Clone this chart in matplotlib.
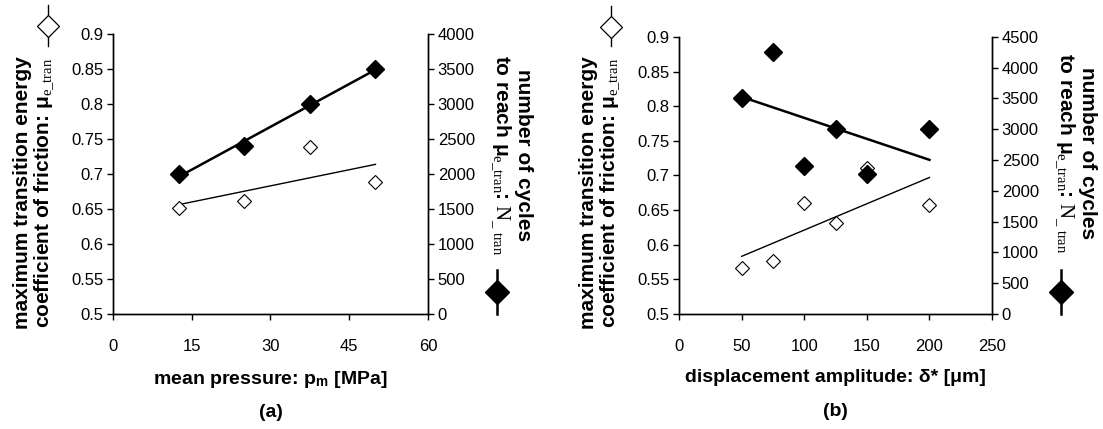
import matplotlib
matplotlib.use("Agg")
import matplotlib.pyplot as plt

plt.rcParams['font.family'] = ['Liberation Sans', 'DejaVu Sans']
plt.rcParams['mathtext.fontset'] = 'custom'
plt.rcParams['mathtext.rm'] = 'Liberation Serif'
plt.rcParams['mathtext.it'] = 'Liberation Serif'
plt.rcParams['mathtext.bf'] = 'Liberation Sans:bold'

# panel (a): mean pressure
press = [12.5, 25, 37.5, 50]
mu_press = [0.651, 0.661, 0.739, 0.689]
n_press = [2000, 2400, 3000, 3500]

# panel (b): displacement amplitude
disp = [50, 75, 100, 125, 150, 200]
mu_disp = [0.566, 0.576, 0.660, 0.632, 0.711, 0.658]
n_disp = [3500, 4250, 2400, 3000, 2280, 3000]

mu_ticks = [0.5, 0.55, 0.6, 0.65, 0.7, 0.75, 0.8, 0.85, 0.9]
mu_ticklabels = ["0.5", "0.55", "0.6", "0.65", "0.7", "0.75", "0.8", "0.85", "0.9"]

left_label = ("maximum transition energy\n"
              "coefficient of friction: \u03bc$_{\\mathrm{e\\_tran}}$")
right_label = ("number of cycles\n"
               "to reach \u03bc$_{\\mathrm{e\\_tran}}$: $\\mathrm{N}_{\\mathrm{\\_\\ tran}}$")


def trend(x, y):
    """ least squares line through the points, evaluated at the end points """
    n = len(x)
    xm = sum(x) / n
    ym = sum(y) / n
    sxy = sum((a - xm) * (b - ym) for a, b in zip(x, y))
    sxx = sum((a - xm) ** 2 for a in x)
    slope = sxy / sxx
    xs = [min(x), max(x)]
    return xs, [ym + slope * (v - xm) for v in xs]


def draw_panel(ax, x, mu, n, xlim, xticks, nmax, xlabel, tag, geo):
    ax2 = ax.twinx()

    xs, ys = trend(x, mu)
    ax.plot(xs, ys, color="black", lw=1.0)
    ax.plot(x, mu, ls="none", marker="D", ms=7.5, mfc="white", mec="black", mew=0.8)

    xs, ys = trend(x, n)
    ax2.plot(xs, ys, color="black", lw=1.8)
    ax2.plot(x, n, ls="none", marker="D", ms=9.5, mfc="black", mec="black")

    ax.set_xlim(*xlim)
    ax.set_xticks(xticks)
    ax.set_ylim(0.5, 0.9)
    ax.set_yticks(mu_ticks)
    ax.set_yticklabels(mu_ticklabels)
    ax2.set_ylim(0, nmax)
    ax2.set_yticks(range(0, nmax + 1, 500))

    for a in (ax, ax2):
        a.spines["top"].set_visible(False)
        a.tick_params(direction="out", length=4, width=1, labelsize=12, pad=3)
        for s in a.spines.values():
            s.set_linewidth(1)
    ax.tick_params(axis="x", pad=14)

    ax.set_xlabel(xlabel, fontsize=14, fontweight="bold", labelpad=11)
    ax.text(0.5, -0.35, tag, transform=ax.transAxes, ha="center", va="center",
            fontsize=14, fontweight="bold")

    lx, ly, rx, ry, okx, oky, fkx, fky = geo
    ax.text(lx, ly, left_label, transform=ax.transAxes, rotation=90, ha="center",
            va="center", fontsize=15, fontweight="bold", linespacing=1.0)
    ax.text(rx, ry, right_label, transform=ax.transAxes, rotation=-90, ha="center",
            va="center", fontsize=15, fontweight="bold", linespacing=1.1)

    # legend keys drawn outside the axes
    ax.plot([okx, okx], [oky - 0.07, oky + 0.075], color="black", lw=1,
            transform=ax.transAxes, clip_on=False)
    ax.plot([okx], [oky], marker="D", ms=11.5, mfc="white", mec="black", mew=0.9,
            transform=ax.transAxes, clip_on=False)
    ax.plot([fkx, fkx], [fky - 0.08, fky + 0.08], color="black", lw=1.8,
            transform=ax.transAxes, clip_on=False)
    ax.plot([fkx], [fky], marker="D", ms=12.5, mfc="black", mec="black",
            transform=ax.transAxes, clip_on=False)


fig = plt.figure(figsize=(11.03, 4.29), dpi=100)
ax_a = fig.add_axes([0.1024, 0.268, 0.2856, 0.6527])
ax_b = fig.add_axes([0.6156, 0.268, 0.2838, 0.646])

draw_panel(ax_a, press, mu_press, n_press, (0, 60), [0, 15, 30, 45, 60], 4000,
           "mean pressure: p$_{\\mathbf{m}}$ [MPa]", "(a)",
           (-0.249, 0.432, 1.263, 0.568, -0.206, 1.029, 1.219, 0.079))
draw_panel(ax_b, disp, mu_disp, n_disp, (0, 250), [0, 50, 100, 150, 200, 250], 4500,
           "displacement amplitude: \u03b4* [\u03bcm]", "(b)",
           (-0.251, 0.437, 1.265, 0.581, -0.217, 1.036, 1.220, 0.079))

fig.savefig("out.png", dpi=100)
